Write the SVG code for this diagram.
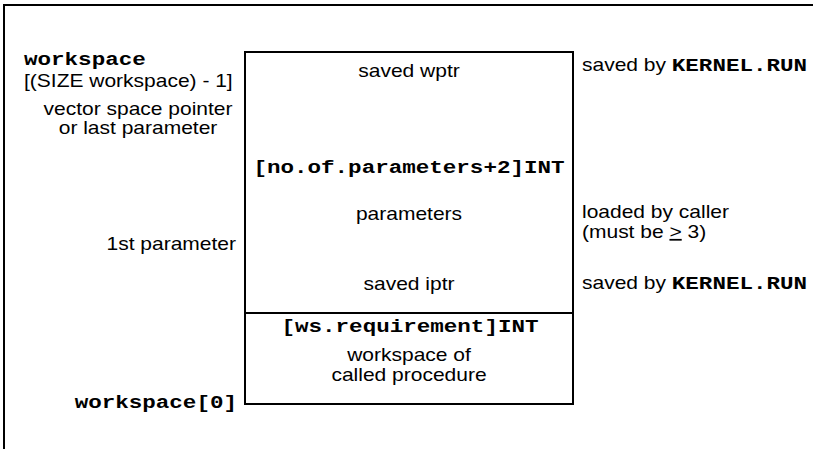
<svg xmlns="http://www.w3.org/2000/svg" width="813" height="449" viewBox="0 0 813 449">
<style>
.s{font-family:"Liberation Sans",Arial,sans-serif;font-size:17.5px;fill:#000}
.m{font-family:"Liberation Mono","Courier New",monospace;font-size:18.8px;font-weight:bold;fill:#000}
.mid{text-anchor:middle}
.end{text-anchor:end}
.ln{stroke:#000;stroke-width:2;fill:none}
</style>
<rect width="813" height="449" fill="#fff"/>
<g id="frame"><path class="ln" d="M4,449 V5 H813"/></g>
<g id="stack">
<rect class="ln" x="245" y="52" width="328" height="352"/>
<line class="ln" x1="245" y1="313" x2="573" y2="313"/>
</g>
<g id="left-labels">
<text class="m" transform="translate(24,65) scale(1.2,1)">workspace</text>
<text class="s" transform="translate(24,87) scale(1.2,1)">[(SIZE workspace) - 1]</text>
<text class="s mid" transform="translate(138,115) scale(1.2,1)">vector space pointer</text>
<text class="s mid" transform="translate(138,134) scale(1.2,1)">or last parameter</text>
<text class="s end" transform="translate(236,250) scale(1.2,1)">1st parameter</text>
<text class="m end" transform="translate(237,408) scale(1.2,1)">workspace[0]</text>
</g>
<g id="box-labels">
<text class="s mid" transform="translate(409,77) scale(1.2,1)">saved wptr</text>
<text class="m mid" transform="translate(409,173) scale(1.2,1)">[no.of.parameters+2]INT</text>
<text class="s mid" transform="translate(409,220) scale(1.2,1)">parameters</text>
<text class="s mid" transform="translate(409,290) scale(1.2,1)">saved iptr</text>
<text class="m mid" transform="translate(410,332) scale(1.2,1)">[ws.requirement]INT</text>
<text class="s mid" transform="translate(409,361) scale(1.2,1)">workspace of</text>
<text class="s mid" transform="translate(409,381) scale(1.2,1)">called procedure</text>
</g>
<g id="right-labels">
<text class="s" transform="translate(582,71) scale(1.2,1)">saved by <tspan class="m">KERNEL.RUN</tspan></text>
<text class="s" transform="translate(582,218) scale(1.2,1)">loaded by caller</text>
<text class="s" transform="translate(582,238) scale(1.2,1)">(must be <tspan text-decoration="underline">&gt;</tspan> 3)</text>
<text class="s" transform="translate(582,289) scale(1.2,1)">saved by <tspan class="m">KERNEL.RUN</tspan></text>
</g>
</svg>
